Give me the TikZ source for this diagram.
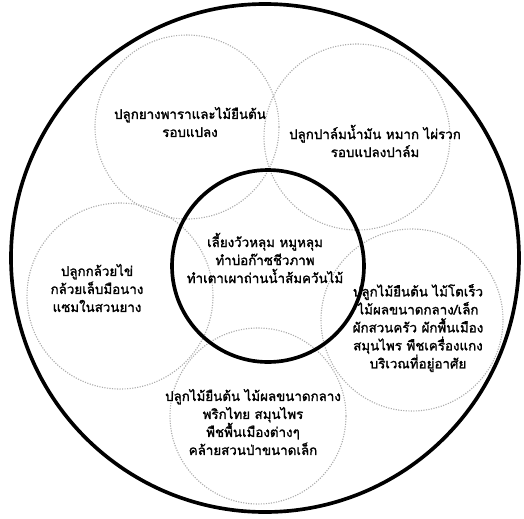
\documentclass[tikz,border=0pt]{standalone}
\usepackage{fontspec}
\newfontfamily\thaifont[Script=Thai,FakeBold=1.6]{Loma}
\usetikzlibrary{positioning}

\begin{document}
\begin{tikzpicture}[
    ring/.style={
        circle,
        draw,
        line width=2.6pt,
        inner sep=0pt
    },
    zone/.style={
        circle,
        draw=gray!65,
        densely dotted,
        line width=0.8pt,
        inner sep=0pt
    },
    zonetext/.style={
        align=center,
        font=\thaifont\fontsize{9.5}{12.8}\selectfont,
        inner sep=1pt
    }
]

    \useasboundingbox (0,0) rectangle (13.1,-12.95);

    % Outer boundary
    \node[ring, minimum size=12.7cm] (farm) at (6.625,-6.45) {};

    % Surrounding zones
    \node[zone, minimum size=4.6cm] (rubber) at (4.675,-3.175) {};
    \node[zone, minimum size=4.65cm] (palm) at (8.925,-3.425) {};
    \node[zone, minimum size=4.65cm] (banana) at (3.0,-7.4) {};
    \node[zone, minimum size=4.55cm] (home) at (10.3,-8.0) {};
    \node[zone, minimum size=4.4cm] (forest) at (6.45,-10.4) {};

    % Core
    \node[ring, minimum size=4.8cm] (core) at (6.7,-6.65) {};

    % Texts
    \node[zonetext] (coretext) at (6.625,-6.45)
        {เลี้ยงวัวหลุม หมูหลุม\\ทำบ่อก๊าซชีวภาพ\\ทำเตาเผาถ่านน้ำส้มควันไม้};
    \node[zonetext] (rubbertext) at (4.75,-3.05)
        {ปลูกยางพาราและไม้ยืนต้น\\รอบแปลง};
    \node[zonetext] (palmtext) at (9.375,-3.525)
        {ปลูกปาล์มน้ำมัน หมาก ไผ่รวก\\รอบแปลงปาล์ม};
    \node[zonetext] (bananatext) at (2.425,-7.2)
        {ปลูกกล้วยไข่\\กล้วยเล็บมือนาง\\แซมในสวนยาง};
    \node[zonetext] (hometext) at (10.45,-8.2)
        {ปลูกไม้ยืนต้น ไม้โตเร็ว\\ไม้ผลขนาดกลาง/เล็ก\\ผักสวนครัว ผักพื้นเมือง\\สมุนไพร พืชเครื่องแกง\\บริเวณที่อยู่อาศัย};
    \node[zonetext] (foresttext) at (6.325,-10.55)
        {ปลูกไม้ยืนต้น ไม้ผลขนาดกลาง\\พริกไทย สมุนไพร\\พืชพื้นเมืองต่างๆ\\คล้ายสวนป่าขนาดเล็ก};

\end{tikzpicture}
\end{document}
